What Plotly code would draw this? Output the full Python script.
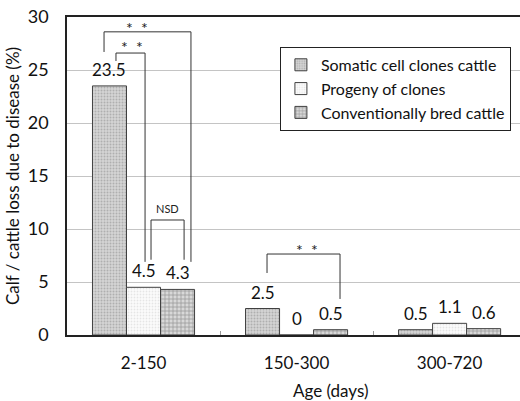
import plotly.graph_objects as go

categories = ["2-150", "150-300", "300-720"]
series_names = ["Somatic cell clones cattle", "Progeny of clones", "Conventionally bred cattle"]
somatic = [23.5, 2.5, 0.5]
progeny = [4.5, 0.0, 1.1]
conventional = [4.3, 0.5, 0.6]
value_labels = [["23.5", "2.5", "0.5"], ["4.5", "0", "1.1"], ["4.3", "0.5", "0.6"]]
y_ticks = [0, 5, 10, 15, 20, 25, 30]

# significance brackets: (x_left, x_right, y_left_bottom, y_right_bottom, y_top, label, label_x, label_y, label_size)
brackets = [
    (-0.258, 0.31, 26.7, 6.9, 28.6, "*  *", -0.042, 29.0, 16),
    (-0.18, 0.01, 25.85, 6.9, 26.6, "*  *", -0.075, 27.25, 16),
    (0.049, 0.265, 7.1, 7.1, 10.85, "NSD", 0.157, 11.95, 11),
    (0.807, 1.284, 5.85, 3.4, 7.64, "*  *", 1.069, 8.05, 16),
]

FONT = "Lato"
series = [somatic, progeny, conventional]
patterns = [
    dict(shape=".", fgcolor="#8a8a8a", bgcolor="#d4d4d4", size=3, solidity=0.35),
    dict(shape=".", fgcolor="#d0d0d0", bgcolor="#fbfbfb", size=3, solidity=0.3),
    dict(shape="+", fgcolor="#5a5a5a", bgcolor="#d8d8d8", size=4, solidity=0.35),
]

fig = go.Figure()
for name, vals, pat in zip(series_names, series, patterns):
    fig.add_trace(go.Bar(
        x=categories, y=vals, name=name,
        marker=dict(color=pat["bgcolor"], pattern=pat,
                    line=dict(color="#404040", width=1)),
    ))

bw = (1 - 0.333) / 3
offsets = [-bw, 0, bw]
for si, vals in enumerate(series):
    for ci, v in enumerate(vals):
        fig.add_annotation(x=ci + offsets[si], y=v, xref="x", yref="y",
                           text=value_labels[si][ci], showarrow=False,
                           yanchor="bottom", yshift=4,
                           font=dict(family=FONT, size=17, color="#111"))

for (xl, xr, ybl, ybr, yt, lab, lx, ly, ls) in brackets:
    fig.add_shape(type="path", xref="x", yref="y",
                  path=f"M {xl},{ybl} L {xl},{yt} L {xr},{yt} L {xr},{ybr}",
                  line=dict(color="#333", width=1))
    fig.add_annotation(x=lx, y=ly, xref="x", yref="y", text=lab, showarrow=False,
                       font=dict(family=FONT, size=ls, color="#222"))

fig.add_annotation(x=(331 - 67) / 453, y=-0.175, xref="paper", yref="paper",
                   text="Age (days)", showarrow=False, yanchor="middle",
                   font=dict(family=FONT, size=17, color="#111"))

fig.update_layout(
    width=520, height=401,
    margin=dict(l=67, r=0, t=17, b=66),
    paper_bgcolor="white", plot_bgcolor="white",
    barmode="group", bargap=0.333, bargroupgap=0,
    font=dict(family=FONT, color="#111"),
    legend=dict(x=0.47, y=0.906, xanchor="left", yanchor="top",
                bordercolor="#222", borderwidth=1, bgcolor="white",
                font=dict(family=FONT, size=16, color="#111"),
                tracegroupgap=0, itemwidth=30),
    xaxis=dict(range=[-0.5, 2.46], showline=True, linecolor="#222", linewidth=1.5,
               mirror=True, ticks="inside", tickson="boundaries", ticklen=4,
               tickcolor="#999", tickfont=dict(family=FONT, size=17, color="#111"),
               ticklabelstandoff=12, showgrid=False),
    yaxis=dict(range=[0, 30], tickvals=y_ticks, showline=True, linecolor="#222",
               linewidth=1.5, showgrid=True, gridcolor="#c4c4c4", gridwidth=1.3,
               tickfont=dict(family=FONT, size=18, color="#111"),
               ticklabelstandoff=13, zeroline=False,
               title=dict(text="Calf / cattle loss due to disease (%)",
                          font=dict(family=FONT, size=17, color="#111"), standoff=4)),
)

fig.write_html("out.html")
